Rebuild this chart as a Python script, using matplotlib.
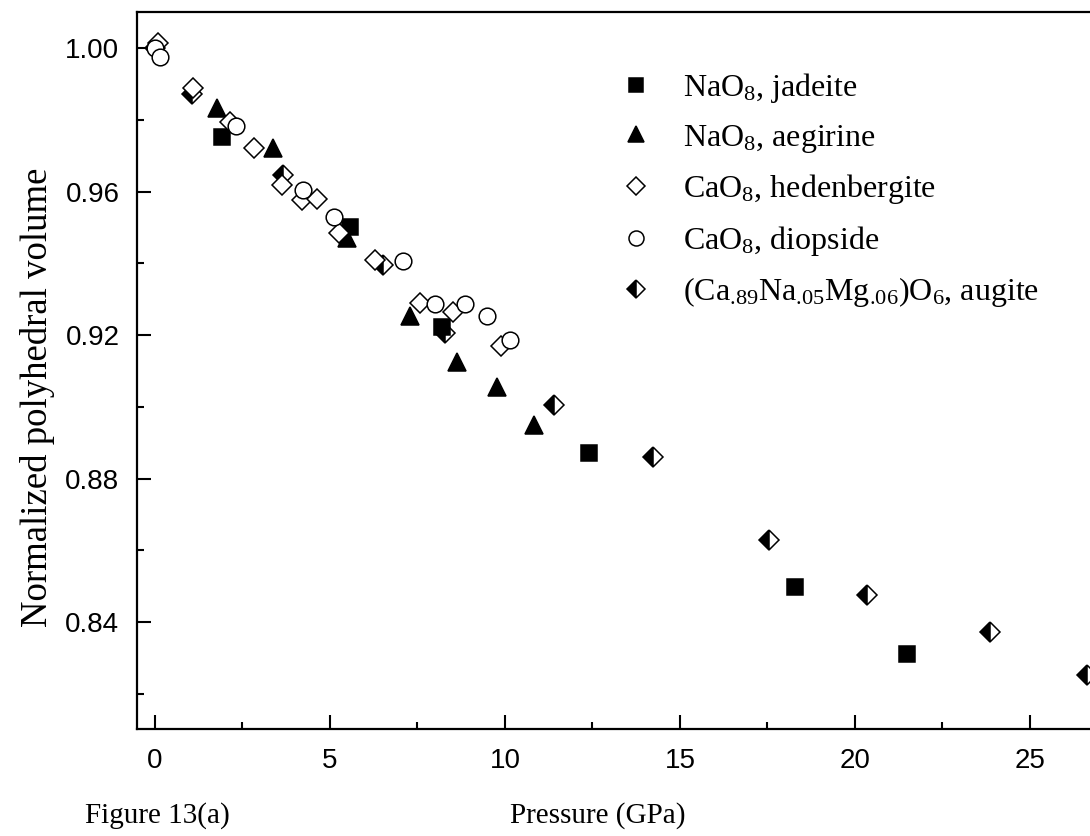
import matplotlib
matplotlib.use("Agg")
import matplotlib.pyplot as plt
from matplotlib.ticker import MultipleLocator

plt.rcParams['font.family'] = ['Liberation Serif', 'DejaVu Serif']
plt.rcParams['mathtext.fontset'] = 'custom'
plt.rcParams['mathtext.rm'] = 'Liberation Serif'
plt.rcParams['mathtext.it'] = 'Liberation Serif:italic'
plt.rcParams['mathtext.default'] = 'regular'

# pressure (GPa) / normalized polyhedral volume
jad_p = [1.91, 5.57, 8.19, 12.40, 18.29, 21.49]
jad_v = [0.9753, 0.9501, 0.9222, 0.8871, 0.8498, 0.8310]

aeg_p = [1.78, 3.36, 5.48, 7.30, 8.64, 9.76, 10.83]
aeg_v = [0.9833, 0.9721, 0.9470, 0.9254, 0.9126, 0.9056, 0.8949]

hed_p = [0.10, 1.09, 2.14, 2.83, 3.62, 4.19, 4.64, 5.27, 6.29, 7.57, 8.51, 9.88]
hed_v = [1.0014, 0.9888, 0.9795, 0.9721, 0.9619, 0.9577, 0.9580, 0.9486, 0.9409, 0.9289, 0.9265, 0.9169]

dio_p = [0.00, 0.14, 2.31, 4.22, 5.11, 7.08, 8.00, 8.86, 9.49, 10.14]
dio_v = [1.0000, 0.9977, 0.9783, 0.9605, 0.9530, 0.9407, 0.9287, 0.9287, 0.9254, 0.9186]

aug_p = [0.00, 1.05, 3.65, 6.52, 8.29, 11.40, 14.24, 17.54, 20.35, 23.86, 26.62]
aug_v = [1.0000, 0.9872, 0.9646, 0.9395, 0.9205, 0.9005, 0.8860, 0.8628, 0.8475, 0.8372, 0.8252]

labels = [r'NaO$_\text{8}$, jadeite',
          r'NaO$_\text{8}$, aegirine',
          r'CaO$_\text{8}$, hedenbergite',
          r'CaO$_\text{8}$, diopside',
          r'(Ca$_\text{.89}$Na$_\text{.05}$Mg$_\text{.06}$)O$_\text{6}$, augite']

fig = plt.figure(figsize=(10.9, 8.36), dpi=100)
# axes runs a bit past the right edge of the picture, like the cropped original
ax = fig.add_axes([0.1261, 0.1274, 0.8895, 0.8577])

kw = dict(linestyle='none', markeredgecolor='black', markeredgewidth=1.1)
ax.plot(aug_p, aug_v, marker='D', markersize=10, color='black', fillstyle='left',
        markerfacecoloralt='white', label=labels[4], zorder=2, **kw)
ax.plot(jad_p, jad_v, marker='s', markersize=11, color='black', label=labels[0], zorder=3, **kw)
ax.plot(aeg_p, aeg_v, marker='^', markersize=13.5, color='black', label=labels[1], zorder=3, **kw)
ax.plot(hed_p, hed_v, marker='D', markersize=10, markerfacecolor='white', color='black', label=labels[2], zorder=3, **kw)
ax.plot(dio_p, dio_v, marker='o', markersize=12, markerfacecolor='white', color='black', label=labels[3], zorder=3, **kw)

ax.set_xlim(-0.5, 27.2)
ax.set_ylim(0.81, 1.01)
ax.xaxis.set_major_locator(MultipleLocator(5))
ax.xaxis.set_minor_locator(MultipleLocator(2.5))
ax.yaxis.set_major_locator(MultipleLocator(0.04))
ax.yaxis.set_minor_locator(MultipleLocator(0.02))
ax.yaxis.set_major_formatter(plt.FormatStrFormatter('%.2f'))

ax.tick_params(which='both', direction='in', width=1.5, top=False, right=False)
ax.tick_params(which='major', length=10, pad=13)
ax.tick_params(which='minor', length=5)
for lab in ax.get_xticklabels() + ax.get_yticklabels():
    lab.set_fontfamily('Liberation Sans')
    lab.set_fontsize(20)
for sp in ax.spines.values():
    sp.set_linewidth(1.6)

fig.text(0.034, 0.525, 'Normalized polyhedral volume', rotation=90,
         ha='center', va='center', fontsize=26.5)
fig.text(0.468, 0.025, 'Pressure (GPa)', ha='left', va='center', fontsize=21)
fig.text(0.078, 0.025, 'Figure 13(a)', ha='left', va='center', fontsize=21)

handles, labs = ax.get_legend_handles_labels()
order = [1, 2, 3, 4, 0]
ax.legend([handles[i] for i in order], [labs[i] for i in order],
          loc='upper left', bbox_to_anchor=(0.569, 0.915), bbox_transform=fig.transFigure,
          frameon=False, fontsize=23, markerscale=0.9, handlelength=1.0,
          handletextpad=0.95, labelspacing=0.55, borderpad=0, borderaxespad=0)

fig.savefig('out.png', dpi=100)
